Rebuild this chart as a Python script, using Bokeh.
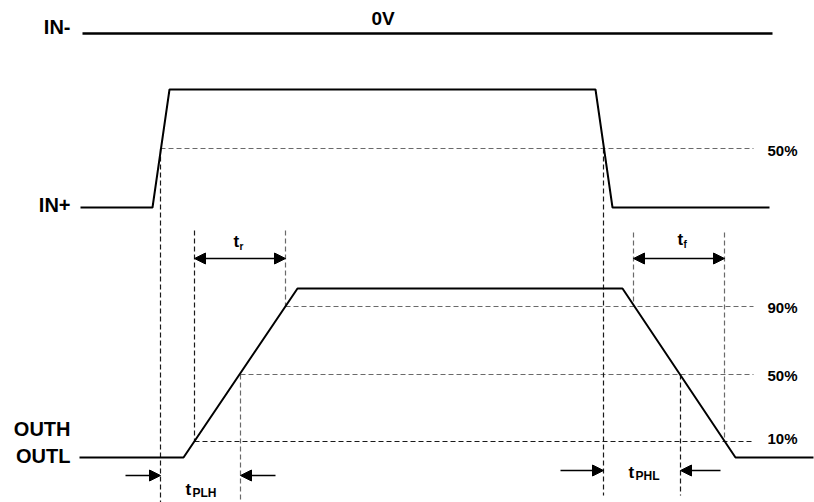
from bokeh.plotting import figure
from bokeh.models import Range1d, Arrow, NormalHead, ColumnDataSource
from bokeh.core.properties import value
from bokeh.embed import file_html
from bokeh.resources import INLINE

# ---- data (diagram coordinates: x = time position, y = vertical position) ----
in_minus_x = [82, 772]
in_minus_y = [33, 33]

in_plus_x = [80, 152, 169, 595, 612, 769]
in_plus_y = [207, 207, 89, 89, 207, 207]

out_x = [79, 183, 297, 622, 735, 813]
out_y = [457, 457, 288, 288, 457, 457]

# threshold (horizontal dashed) lines
thr_label = ["50%", "90%", "50%", "10%"]
thr_label_y = [149.5, 306.5, 374.5, 438]
thr_y = [148, 306, 374, 441]
thr_x0 = [160, 285, 240, 194]
thr_x1 = [753, 753, 753, 753]
thr_color = ["#6a6a6a", "#6a6a6a", "#6a6a6a", "#1a1a1a"]

# vertical dashed markers
vx = [160, 603, 194, 724, 680, 285, 633, 240]
vy0 = [148, 148, 230, 232, 374, 230, 232, 374]
vy1 = [502, 495, 441, 441, 495, 306, 306, 502]
v_color = ["#1a1a1a", "#1a1a1a", "#1a1a1a", "#6a6a6a", "#1a1a1a", "#6a6a6a", "#6a6a6a", "#6a6a6a"]

# arrows: (x_start, x_end, y, double)
arr_x0 = [194, 633, 125, 275, 560, 720]
arr_x1 = [285, 724, 160, 240, 603, 680]
arr_y = [258, 258, 475, 475, 470, 470]
arr_double = [True, True, False, False, False, False]

# left labels
sig_labels = ["IN-", "IN+", "OUTH", "OUTL"]
sig_label_y = [26.5, 204, 428.5, 455.5]

# timing labels
t_main_x = [233, 677, 185, 628]
t_main_y = [241, 239, 489, 472]
t_sub = ["r", "f", "PLH", "PHL"]
t_sub_x = [239, 683, 192, 635]
t_sub_y = [245.5, 243.5, 492.5, 475.5]
t_sub_size = ["10px", "10px", "12px", "12px"]

FONT = value("Liberation Sans")

p = figure(width=814, height=502, output_backend="svg", toolbar_location=None,
           x_range=Range1d(0, 814), y_range=Range1d(502, 0),
           min_border=0, min_border_left=0, min_border_right=0,
           min_border_top=0, min_border_bottom=0)
p.xaxis.visible = False
p.yaxis.visible = False
p.grid.visible = False
p.outline_line_color = None
p.background_fill_color = "white"
p.border_fill_color = "white"

# dashed threshold lines
p.segment(x0=thr_x0, y0=thr_y, x1=thr_x1, y1=thr_y, line_color=thr_color,
          line_width=1.2, line_dash="5 3")
# dashed vertical lines
p.segment(x0=vx, y0=vy0, x1=vx, y1=vy1, line_color=v_color,
          line_width=1.2, line_dash="5 3")

# signal traces
p.line(in_minus_x, in_minus_y, line_color="black", line_width=2.5)
p.line(in_plus_x, in_plus_y, line_color="black", line_width=2)
p.line(out_x, out_y, line_color="black", line_width=2)

# arrows
for x0, x1, y, dbl in zip(arr_x0, arr_x1, arr_y, arr_double):
    end = NormalHead(size=11, fill_color="black", line_color="black", line_width=1)
    start = NormalHead(size=11, fill_color="black", line_color="black", line_width=1) if dbl else None
    p.add_layout(Arrow(x_start=x0, y_start=y, x_end=x1, y_end=y, start=start, end=end,
                       line_color="black", line_width=1.5))

# signal labels
p.text(x=[70] * len(sig_labels), y=sig_label_y, text=sig_labels, text_font=FONT,
       text_font_style="bold", text_font_size="20px", text_align="right",
       text_baseline="middle", text_color="black")

# 0V label
p.text(x=[371], y=[17.5], text=["0V"], text_font=FONT, text_font_style="bold",
       text_font_size="19px", text_align="left", text_baseline="middle",
       text_color="black")

# threshold labels
p.text(x=[767] * len(thr_label), y=thr_label_y, text=thr_label, text_font=FONT,
       text_font_style="bold", text_font_size="15px", text_align="left",
       text_baseline="middle", text_color="black")

# timing labels
p.text(x=t_main_x, y=t_main_y, text=["t"] * 4, text_font=FONT, text_font_style="bold",
       text_font_size="17px", text_align="left", text_baseline="middle",
       text_color="black")
src = ColumnDataSource(dict(x=t_sub_x, y=t_sub_y, text=t_sub, size=t_sub_size))
p.text(x="x", y="y", text="text", text_font_size="size", source=src, text_font=FONT,
       text_font_style="bold", text_align="left", text_baseline="middle",
       text_color="black")

open("out.html", "w").write(file_html(p, INLINE))
